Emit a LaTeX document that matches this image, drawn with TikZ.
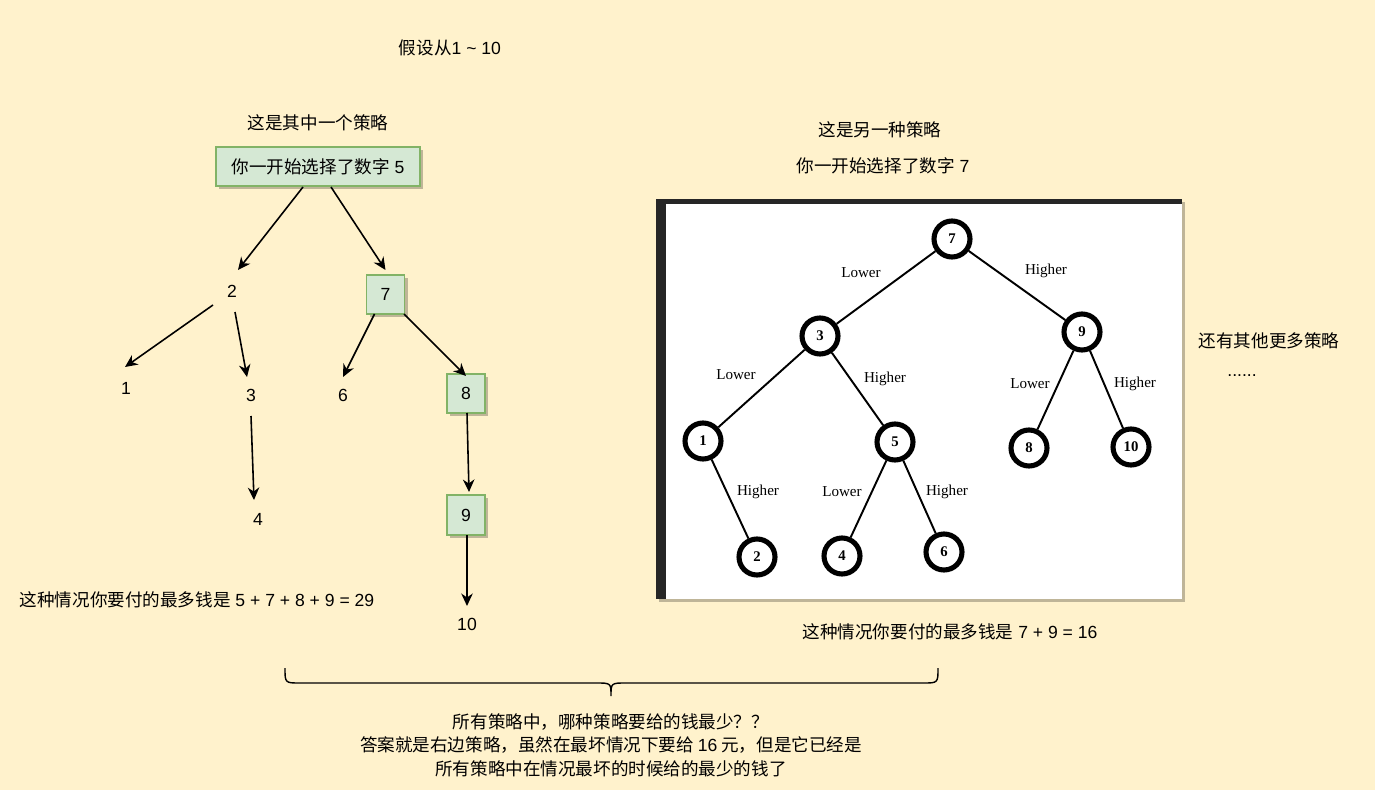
\documentclass[tikz,border=0pt]{standalone}
\usepackage{fontspec}
\setmainfont{Liberation Sans}
\newfontfamily\cjk{Noto Sans CJK SC}
\newfontfamily\lat{Liberation Sans}
\newfontfamily\treefont{Liberation Serif}
\usetikzlibrary{arrows.meta,calc,shadows}
\definecolor{bg}{HTML}{FFF2CC}
\definecolor{gfill}{HTML}{D5E8D4}
\definecolor{gdraw}{HTML}{82B366}
\begin{document}
\begin{tikzpicture}[x=0.02cm,y=-0.02cm,
  txt/.style={font=\fontsize{10}{13.4}\selectfont, inner sep=1pt, align=center},
  gbox/.style={txt, draw=gdraw, fill=gfill, line width=0.8pt,
    drop shadow={shadow xshift=0.06cm, shadow yshift=-0.06cm, opacity=0.25, fill=black}},
  arr/.style={-{Stealth[length=2.5mm,width=2.3mm,inset=0.8mm]}, line width=0.9pt},
  tnode/.style={circle, draw=black, line width=2.9pt, minimum size=0.72cm, inner sep=0pt, fill=white,
    font=\treefont\bfseries\fontsize{8.4}{9}\selectfont},
  tedge/.style={line width=1.1pt},
  tlab/.style={font=\treefont\fontsize{8.6}{10}\selectfont, inner sep=0pt}
]
\fill[bg] (0,0) rectangle (1375,790);
\useasboundingbox (0,0) rectangle (1375,790);

% ---- top texts
\node[txt] (title) at (450,48) {{\cjk 假设从}1 \textasciitilde{} 10};
\node[txt] (s1) at (318,123) {\cjk 这是其中一个策略};
\node[txt] (s2) at (880,130) {\cjk 这是另一种策略};
\node[txt] (s2b) at (883,166) {{\cjk 你一开始选择了数字} 7};
\node[txt] (more) at (1269,341) {\cjk 还有其他更多策略};
\node[txt] (dots) at (1242,376) {......};

% ---- left tree
\node[gbox, minimum width=4.08cm, minimum height=0.78cm] (n5) at (318,166.5) {{\cjk 你一开始选择了数字} 5};
\node[txt] (n2) at (232,291) {2};
\node[txt] (n1) at (126,388) {1};
\node[txt] (n3) at (251,395) {3};
\node[txt] (n4) at (258,519) {4};
\node[gbox, minimum width=0.76cm, minimum height=0.78cm] (n7) at (385.5,294.5) {7};
\node[txt] (n6) at (343,395) {6};
\node[gbox, minimum width=0.76cm, minimum height=0.78cm] (n8) at (466,393.5) {8};
\node[gbox, minimum width=0.76cm, minimum height=0.8cm] (n9) at (466,515) {9};
\node[txt] (n10) at (467,624) {10};

\draw[arr] ($(n5)+(-15,20.5)$) -- ($(n2)+(6,-21)$);
\draw[arr] ($(n5)+(13,20.5)$) -- ($(n7)+(0,-24.5)$);
\draw[arr] ($(n2)+(-19,14)$) -- ($(n1)+(-1,-21)$);
\draw[arr] ($(n2)+(3,21)$) -- ($(n3)+(-4,-18)$);
\draw[arr] ($(n3)+(0,21)$) -- ($(n4)+(-4,-19)$);
\draw[arr] ($(n7)+(-11,19.5)$) -- ($(n6)+(0,-18)$);
\draw[arr] ($(n7)+(18.5,19.5)$) -- ($(n8)+(0,-17.5)$);
\draw[arr] ($(n8)+(1,19.5)$) -- ($(n9)+(3,-23)$);
\draw[arr] ($(n9)+(1,20)$) -- ($(n10)+(0,-18)$);

\node[txt] (sum1) at (197,600) {{\cjk 这种情况你要付的最多钱是} 5 + 7 + 8 + 9 = 29};

% ---- right picture
\fill[black, opacity=0.25] (659,202) rectangle (1185,602);
\fill[white] (656,199) rectangle (1182,599);
\fill[black!85] (656,199) rectangle (666,599);
\fill[black!85] (656,199) rectangle (1182,204);

\node[tnode] (r7) at (952,239) {7};
\node[tnode] (r3) at (820,336) {3};
\node[tnode] (r9) at (1082,332) {9};
\node[tnode] (r1) at (703,441) {1};
\node[tnode] (r5) at (895,442) {5};
\node[tnode] (r8) at (1029,448) {8};
\node[tnode] (r10) at (1131,447) {10};
\node[tnode] (r2) at (757,557) {2};
\node[tnode] (r4) at (842,556) {4};
\node[tnode] (r6) at (944,552) {6};

\draw[tedge] (r7) -- (r3);
\draw[tedge] (r7) -- (r9);
\draw[tedge] (r3) -- (r1);
\draw[tedge] (r3) -- (r5);
\draw[tedge] (r9) -- (r8);
\draw[tedge] (r9) -- (r10);
\draw[tedge] (r1) -- (r2);
\draw[tedge] (r5) -- (r4);
\draw[tedge] (r5) -- (r6);

\node[tlab] (l1) at (861,273) {Lower};
\node[tlab] (h1) at (1046,271) {Higher};
\node[tlab] (l2) at (736,375) {Lower};
\node[tlab] (h2) at (885,379) {Higher};
\node[tlab] (l3) at (1030,384) {Lower};
\node[tlab] (h3) at (1135,384) {Higher};
\node[tlab] (h4) at (758,492) {Higher};
\node[tlab] (l5) at (842,492) {Lower};
\node[tlab] (h5) at (947,492) {Higher};

\node[txt] (sum2) at (950,632) {{\cjk 这种情况你要付的最多钱是} 7 + 9 = 16};

% ---- brace
\draw[line width=0.8pt] (285,668) .. controls (285,683) .. (300,683) -- (596,683)
  .. controls (611,683) .. (611,696) .. controls (611,683) .. (626,683) -- (923,683)
  .. controls (938,683) .. (938,668);

\node[txt, font=\cjk\fontsize{10}{13.4}\selectfont] (answer) at (611,745) {所有策略中，哪种策略要给的钱最少？？\\
答案就是右边策略，虽然在最坏情况下要给 {\lat 16} 元，但是它已经是\\
所有策略中在情况最坏的时候给的最少的钱了};
\end{tikzpicture}
\end{document}
